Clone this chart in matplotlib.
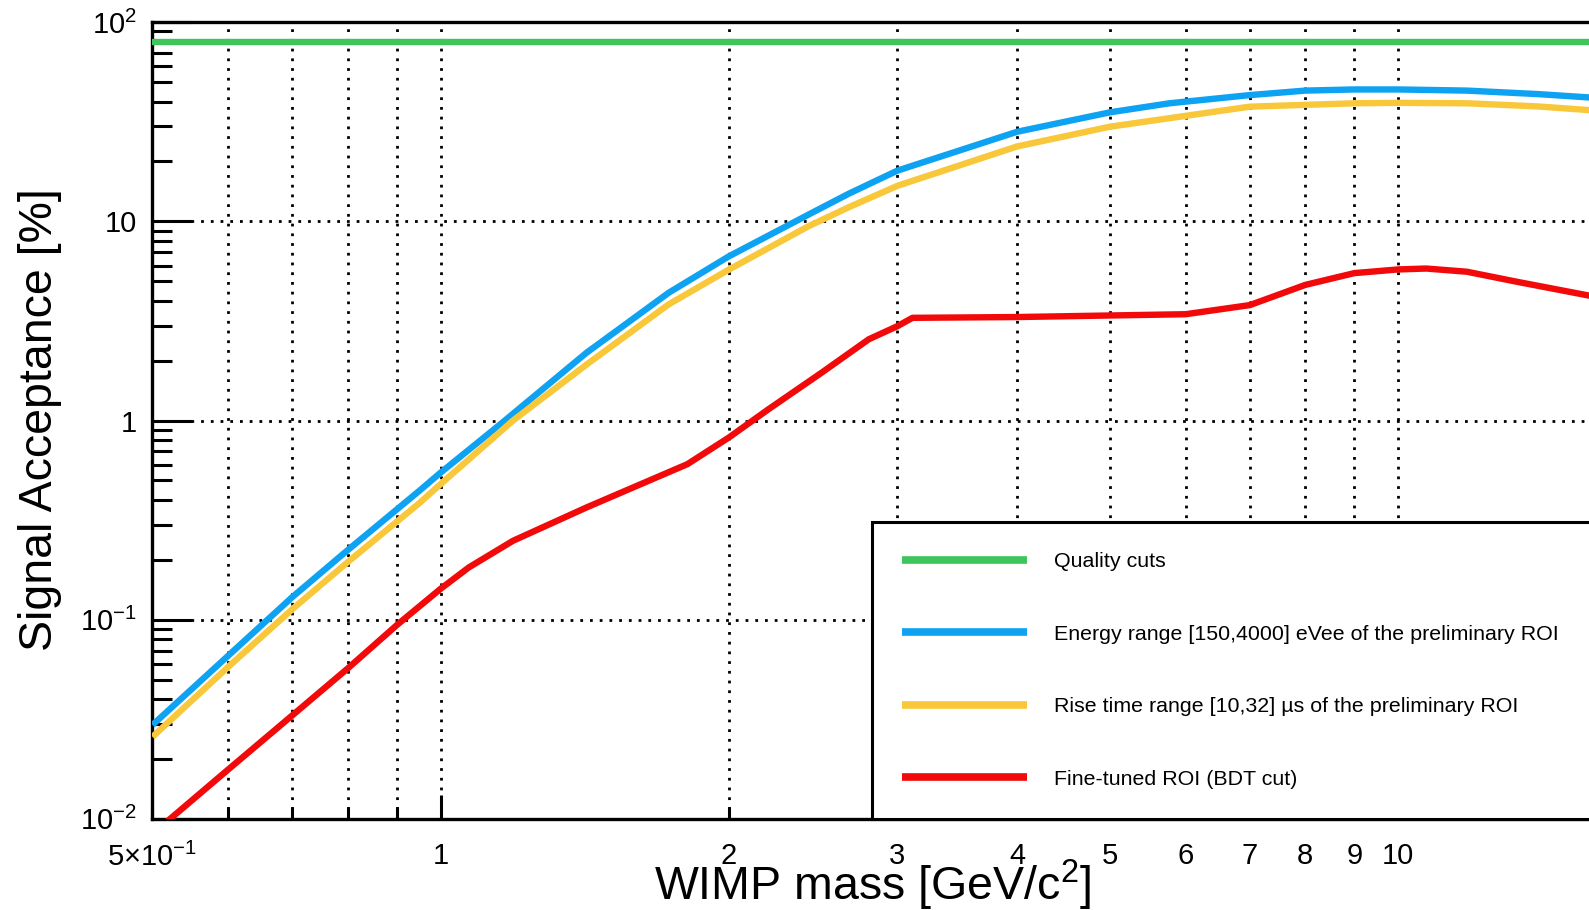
import matplotlib
matplotlib.use("Agg")
import matplotlib.pyplot as plt
from matplotlib.ticker import FixedLocator, FuncFormatter

plt.rcParams['font.family'] = ['Liberation Sans', 'DejaVu Sans']
plt.rcParams['mathtext.fontset'] = 'custom'
plt.rcParams['mathtext.rm'] = 'Liberation Sans'
plt.rcParams['mathtext.it'] = 'Liberation Sans:italic'
plt.rcParams['mathtext.bf'] = 'Liberation Sans:bold'

# ---- data: signal acceptance [%] vs WIMP mass [GeV/c^2] ----
mass_quality = [0.5, 16.0]
acc_quality = [80.0, 80.0]

mass_energy = [0.5, 0.6, 0.7, 0.8, 0.95, 1.0, 1.16, 1.42, 1.73, 2.0, 2.42, 2.67,
               3.0, 4.0, 5.0, 5.77, 7.0, 8.0, 9.0, 10.0, 11.8, 14.0, 16.0]
acc_energy = [0.0296, 0.066, 0.130, 0.224, 0.444, 0.548, 0.977, 2.19, 4.38, 6.68, 10.8, 13.8,
              18.0, 28.2, 35.3, 39.2, 43.1, 45.4, 46.0, 46.0, 45.4, 43.6, 41.8]

mass_risetime = [0.5, 0.6, 0.7, 0.8, 0.95, 1.0, 1.19, 1.42, 1.73, 2.0, 2.42, 2.67,
                 3.0, 4.0, 5.0, 5.77, 7.0, 8.0, 9.0, 10.0, 11.8, 14.0, 16.0]
acc_risetime = [0.0258, 0.0580, 0.113, 0.195, 0.385, 0.480, 1.00, 1.91, 3.83, 5.73, 9.44, 11.8,
                15.1, 23.8, 29.9, 33.0, 37.7, 38.5, 39.2, 39.4, 39.2, 37.8, 36.1]

mass_bdt = [0.5, 0.6, 0.7, 0.8, 0.9, 1.0, 1.07, 1.19, 1.42, 1.81, 2.0, 2.2, 2.5, 2.8,
            3.0, 3.11, 4.0, 5.0, 6.0, 7.0, 8.0, 9.0, 10.0, 10.7, 11.8, 13.3, 16.0]
acc_bdt = [0.0084, 0.0177, 0.0331, 0.057, 0.094, 0.143, 0.183, 0.249, 0.366, 0.604, 0.822,
           1.14, 1.74, 2.56, 2.98, 3.28, 3.31, 3.37, 3.42, 3.8, 4.8, 5.5, 5.74, 5.8, 5.59,
           4.98, 4.2]

labels = ["Quality cuts",
          "Energy range [150,4000] eVee of the preliminary ROI",
          "Rise time range [10,32] µs of the preliminary ROI",
          "Fine-tuned ROI (BDT cut)"]
colors = ["#3ec65c", "#0ea2f2", "#f9c83a", "#f20a0a"]

x_major = [1, 10]
x_minor = [0.5, 0.6, 0.7, 0.8, 0.9, 2, 3, 4, 5, 6, 7, 8, 9]
x_labels = {0.5: "5×10$^{-1}$", 1: "1", 2: "2", 3: "3", 4: "4", 5: "5",
            6: "6", 7: "7", 8: "8", 9: "9", 10: "10"}
y_major = [0.01, 0.1, 1, 10, 100]
y_labels = {0.01: "10$^{-2}$", 0.1: "10$^{-1}$", 1: "1", 10: "10", 100: "10$^{2}$"}
y_minor = [k * d for d in (0.01, 0.1, 1, 10) for k in range(2, 10)]

# ---- figure ----
fig = plt.figure(figsize=(15.89, 9.10), dpi=100)
ax = fig.add_axes([0.09597, 0.10022, 0.90686, 0.87527])
ax.set_xscale('log')
ax.set_yscale('log')
ax.set_xlim(0.5, 16)
ax.set_ylim(0.01, 100)

lw = 4.6
series = [(mass_quality, acc_quality), (mass_energy, acc_energy),
          (mass_risetime, acc_risetime), (mass_bdt, acc_bdt)]
for (xs, ys), c, lab in zip(series, colors, labels):
    ax.plot(xs, ys, color=c, lw=lw, label=lab, zorder=3,
            solid_capstyle='butt', solid_joinstyle='round')


def lookup(table):
    def fmt(v, pos):
        for k, s in table.items():
            if abs(v - k) < 1e-6 * max(1.0, k):
                return s
        return ""
    return fmt


ax.xaxis.set_major_locator(FixedLocator(x_major))
ax.xaxis.set_minor_locator(FixedLocator(x_minor))
ax.xaxis.set_major_formatter(FuncFormatter(lookup(x_labels)))
ax.xaxis.set_minor_formatter(FuncFormatter(lookup(x_labels)))
ax.yaxis.set_major_locator(FixedLocator(y_major))
ax.yaxis.set_minor_locator(FixedLocator(y_minor))
ax.yaxis.set_major_formatter(FuncFormatter(lookup(y_labels)))
ax.yaxis.set_minor_formatter(FuncFormatter(lambda v, p: ""))

ax.tick_params(axis='both', which='both', direction='in', width=2.2, colors='black',
               labelsize=21, top=False, right=False)
ax.tick_params(axis='y', which='major', length=28.5, pad=11)
ax.tick_params(axis='y', which='minor', length=14.5, pad=11)
ax.tick_params(axis='x', which='major', length=17.5, pad=17)
ax.tick_params(axis='x', which='minor', length=8.5, pad=17)

for side in ('left', 'bottom', 'top', 'right'):
    ax.spines[side].set_linewidth(2.4)

grid_style = dict(color='black', lw=2.0, linestyle=(0, (1, 2.5)))
ax.grid(True, which='both', axis='x', **grid_style)
ax.grid(True, which='major', axis='y', **grid_style)
ax.set_axisbelow(True)

leg = ax.legend(loc='lower left', bbox_to_anchor=(0.499, 0.0, 0.501, 0.3),
                mode='expand', borderaxespad=0.0, fontsize=15.4,
                handlelength=5.89, handletextpad=1.22, borderpad=1.4,
                labelspacing=2.5, fancybox=False, framealpha=1.0,
                edgecolor='black')
leg.get_frame().set_linewidth(2.2)
leg.set_zorder(5)
for line in leg.get_lines():
    line.set_linewidth(5.5)
    line.set_solid_capstyle('butt')

fig.text(0.5494, 0.011, "WIMP mass [GeV/c$^{2}$]", fontsize=33.5,
         ha='center', va='baseline')
fig.text(0.0327, 0.539, "Signal Acceptance [%]", fontsize=33.5, rotation=90,
         rotation_mode='anchor', ha='center', va='baseline')

fig.savefig("out.png", dpi=100)
